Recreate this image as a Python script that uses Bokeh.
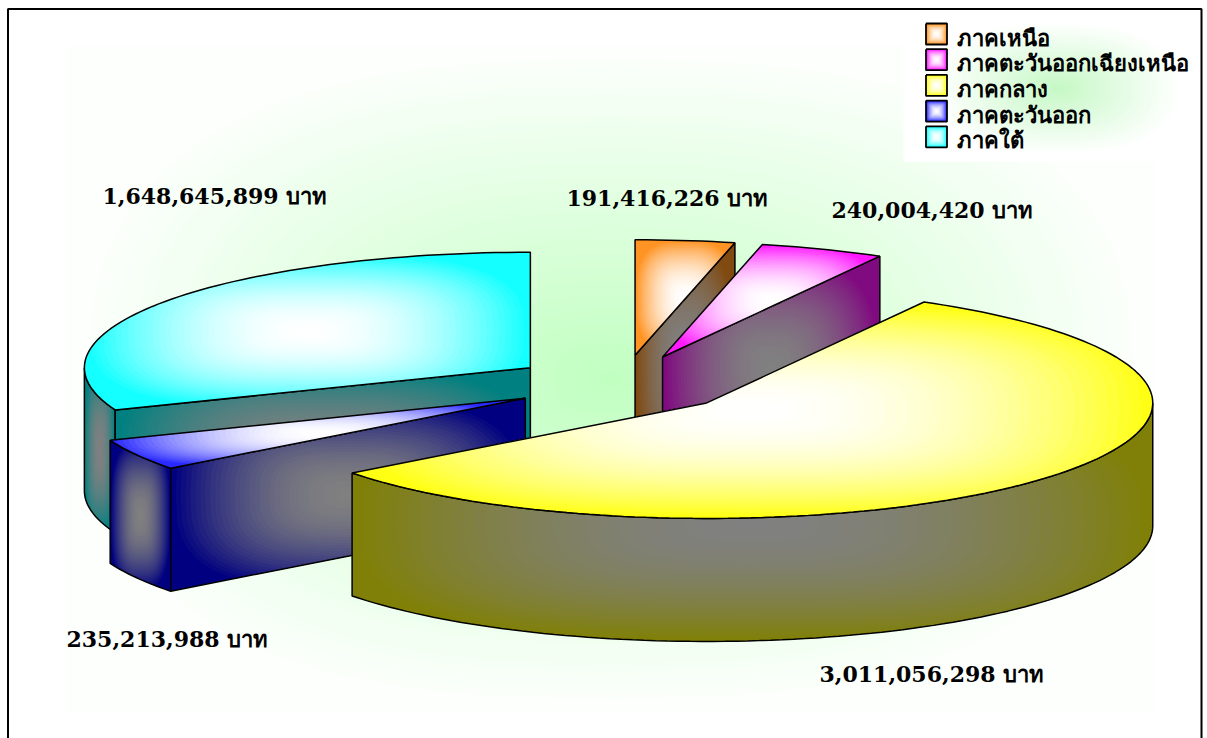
import numpy as np
from bokeh.plotting import figure
from bokeh.models import ColumnDataSource, Range1d
from bokeh.core.properties import value
from bokeh.embed import file_html
from bokeh.resources import INLINE

regions = ["ภาคเหนือ", "ภาคตะวันออกเฉียงเหนือ", "ภาคกลาง", "ภาคตะวันออก", "ภาคใต้"]
baht = [191416226, 240004420, 3011056298, 235213988, 1648645899]
top_colors = ["#FF9424", "#FF19FF", "#FFFF14", "#2A2AFF", "#14FFFF"]
side_colors = ["#804A10", "#800A80", "#808008", "#000080", "#008080"]
unit = "บาท"

W, H = 1207, 738
CX, CY, RX, RY, DEPTH, EXPLODE = 622.0, 383.5, 446.0, 115.5, 123.0, 0.25
LABEL_POS = [(566, 197.5), (831, 209.5), (819, 673.5), (66, 638.5), (102, 195.5)]
LEGEND_BOX = (903, 17, 1185, 161)
NUM_FONT = "DejaVu Serif"
THAI_FONT = "Noto Sans"


def rgb(h):
    return np.array([int(h[i:i + 2], 16) for i in (1, 3, 5)], float)


def mix(a, b, f):
    c = rgb(a) * (1 - f) + rgb(b) * f
    return "#%02x%02x%02x" % tuple(int(round(v)) for v in c)


def clip_convex(poly, clipper):
    out = list(poly)
    n = len(clipper)
    for i in range(n):
        ax, ay = clipper[i]
        bx, by = clipper[(i + 1) % n]
        inp, out = out, []
        if not inp:
            break
        side = lambda q: (bx - ax) * (q[1] - ay) - (by - ay) * (q[0] - ax)
        for j in range(len(inp)):
            P, Q = inp[j - 1], inp[j]
            sp, sq = side(P), side(Q)
            if sq >= 0:
                if sp < 0:
                    f = sp / (sp - sq)
                    out.append((P[0] + f * (Q[0] - P[0]), P[1] + f * (Q[1] - P[1])))
                out.append(Q)
            elif sp >= 0:
                f = sp / (sp - sq)
                out.append((P[0] + f * (Q[0] - P[0]), P[1] + f * (Q[1] - P[1])))
    return out


def super_ellipse(cx, cy, hw, hh, p=3.0, n=40):
    th = np.linspace(0, 2 * np.pi, n, endpoint=False)
    c, s = np.cos(th), np.sin(th)
    return list(zip(cx + hw * np.sign(c) * np.abs(c) ** (2 / p),
                    cy + hh * np.sign(s) * np.abs(s) ** (2 / p)))


def shaded(p, poly, edge, centre, levels=36, box=None, pw=3.0, ease=2.0):
    arr = np.array(poly)
    if box is None:
        box = (arr[:, 0].min(), arr[:, 1].min(), arr[:, 0].max(), arr[:, 1].max())
    cx, cy = (box[0] + box[2]) / 2, (box[1] + box[3]) / 2
    hw, hh = (box[2] - box[0]) / 2, (box[3] - box[1]) / 2
    xs, ys, cs = [list(arr[:, 0])], [list(arr[:, 1])], [edge]
    for i in range(1, levels):
        r = 1 - i / levels
        q = clip_convex(poly, super_ellipse(cx, cy, hw * r, hh * r, pw))
        if len(q) >= 3:
            xs.append([a for a, _ in q])
            ys.append([b for _, b in q])
            cs.append(mix(edge, centre, 1 - r ** ease))
    p.patches("x", "y", fill_color="c", line_color=None,
              source=ColumnDataSource(dict(x=xs, y=ys, c=cs)))


def outline(p, poly, width=1.5):
    a = list(poly) + [poly[0]]
    p.line([q[0] for q in a], [q[1] for q in a], line_color="#000000", line_width=width)


p = figure(width=W, height=H, output_backend="svg", toolbar_location=None,
           x_range=Range1d(0, W), y_range=Range1d(H, 0),
           min_border=0, background_fill_color="#ffffff", border_fill_color="#ffffff")
p.axis.visible = False
p.grid.visible = False
p.outline_line_color = None

# plot area wash
bg = [(65, 45), (1155, 45), (1155, 712), (65, 712)]
shaded(p, bg, "#fdfffd", "#c0ffc0", levels=48, pw=2.6, ease=1.0)

# slice geometry from the values
total = sum(baht)
spans = [v / total * 2 * np.pi for v in baht]
starts = np.cumsum([0] + spans[:-1])


def pt(c, t):
    return (c[0] + RX * np.sin(t), c[1] - RY * np.cos(t))


def down(q):
    return (q[0], q[1] + DEPTH)


def arc(c, a, b, n=None):
    n = n or max(2, int(abs(b - a) / np.radians(1.5)) + 2)
    return [pt(c, t) for t in np.linspace(a, b, n)]


for i in [4, 0, 1, 3, 2]:
    a, b = starts[i], starts[i] + spans[i]
    mid = (a + b) / 2
    apex = (CX + EXPLODE * RX * np.sin(mid), CY - EXPLODE * RY * np.cos(mid))
    top, side = top_colors[i], side_colors[i]

    # outer wall: front half only
    wa, wb = max(a, np.pi / 2), min(b, 3 * np.pi / 2)
    if wb > wa:
        upper = arc(apex, wa, wb)
        wall = upper + [down(q) for q in reversed(upper)]
        shaded(p, wall, side, "#808080")
        outline(p, wall)
    # cut faces turned towards the viewer
    for ang, seen in ((a, np.sin(a) < -1e-6), (b, np.sin(b) > 1e-6)):
        if seen:
            e = pt(apex, ang)
            cut = [apex, e, down(e), down(apex)]
            shaded(p, cut, side, "#808080")
            outline(p, cut)
    # top
    face = [apex] + arc(apex, a, b)
    shaded(p, face, top, "#ffffff")
    outline(p, face)

# value labels
lab_x = [q[0] for q in LABEL_POS]
lab_y = [q[1] for q in LABEL_POS]
lab_t = [f"{v:,} {unit}" for v in baht]
p.text(lab_x, lab_y, text=lab_t, text_font=value(NUM_FONT), text_font_style="bold",
       text_font_size="22px", text_baseline="middle", text_align="left", text_color="#000000")

# legend
x0, y0, x1, y1 = LEGEND_BOX
p.quad(left=[x0], right=[x1], top=[y0], bottom=[y1], fill_color="#ffffff", line_color=None)
shaded(p, [(x0 + 10, y0 + 4), (x1 - 4, y0 + 4), (x1 - 4, y1 - 6), (x0 + 10, y1 - 6)],
       "#ffffff", "#c4f8c4", levels=32, box=(x0 + 30, y0 + 4, x1 - 4, y1 - 6), pw=2.4, ease=1.0)
for i, name in enumerate(regions):
    ky = 23 + i * 25.7
    sq = [(925.5, ky), (946.5, ky), (946.5, ky + 21), (925.5, ky + 21)]
    shaded(p, sq, top_colors[i], "#ffffff", levels=10, pw=8.0)
    outline(p, sq, width=1.8)
    p.text([956], [ky + 13], text=[name], text_font=value(THAI_FONT), text_font_style="bold",
           text_font_size="22px", text_baseline="middle", text_color="#000000")

# frame
p.line([7.5, 7.5, 1201, 1201], [738, 8.5, 8.5, 738], line_color="#000000", line_width=2)

open("out.html", "w").write(file_html(p, INLINE))
